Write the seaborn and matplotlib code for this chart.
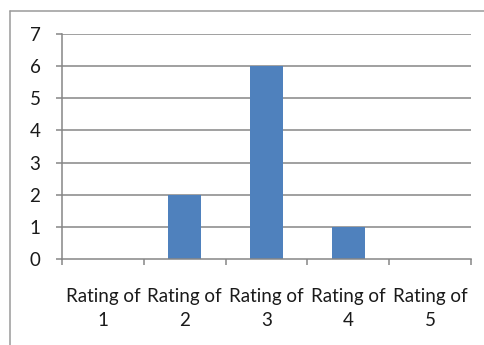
import matplotlib
matplotlib.use("Agg")
import matplotlib.pyplot as plt
from matplotlib.lines import Line2D
import seaborn as sns
import pandas as pd

categories = ["Rating of\n1", "Rating of\n2", "Rating of\n3", "Rating of\n4", "Rating of\n5"]
counts = [0, 2, 6, 1, 0]
yticks = [0, 1, 2, 3, 4, 5, 6, 7]

sns.set_theme(style="white")
plt.rcParams['font.family'] = ['Lato', 'DejaVu Sans']

df = pd.DataFrame({"category": categories, "count": counts})

fig = plt.figure(figsize=(4.84, 3.45), dpi=100)
ax = fig.add_axes([62/484, 1-259/345, (471-62)/484, (259-34)/345])

gray = "#868686"
sns.barplot(data=df, x="category", y="count", color="#4F81BD", width=0.4,
            saturation=1, ax=ax, zorder=3, edgecolor="none", linewidth=0)

ax.set_ylim(0, 7)
ax.set_xlim(-0.5, 4.5)
ax.set_yticks(yticks)
ax.set_yticklabels([str(v) for v in yticks])
for v in yticks[1:]:
    ax.axhline(v, color=gray, lw=1.1, zorder=1)

ax.set_xlabel("")
ax.set_ylabel("")
for s in ["top", "right"]:
    ax.spines[s].set_visible(False)
for s in ["left", "bottom"]:
    ax.spines[s].set_color(gray)
    ax.spines[s].set_linewidth(1.1)
    ax.spines[s].set_zorder(4)

ax.set_xticks([i - 0.5 for i in range(6)], minor=True)
ax.tick_params(axis="x", which="major", length=0, pad=21, labelsize=13.5, labelcolor="#1a1a1a")
ax.tick_params(axis="x", which="minor", length=4, width=1.1, color=gray, direction="out", bottom=True)
ax.tick_params(axis="y", which="major", length=4.5, width=1.1, color=gray, direction="out",
               pad=11, labelsize=13.5, labelcolor="#1a1a1a", left=True)
for lbl in ax.get_xticklabels():
    lbl.set_linespacing(1.5)

# outer chart frame (partially visible)
fig.add_artist(Line2D([10/484, 1], [1-11/345, 1-11/345], transform=fig.transFigure, color="#9a9a9a", lw=1.1))
fig.add_artist(Line2D([10/484, 10/484], [0, 1-11/345], transform=fig.transFigure, color="#9a9a9a", lw=1.1))

fig.savefig("out.png", dpi=100)
